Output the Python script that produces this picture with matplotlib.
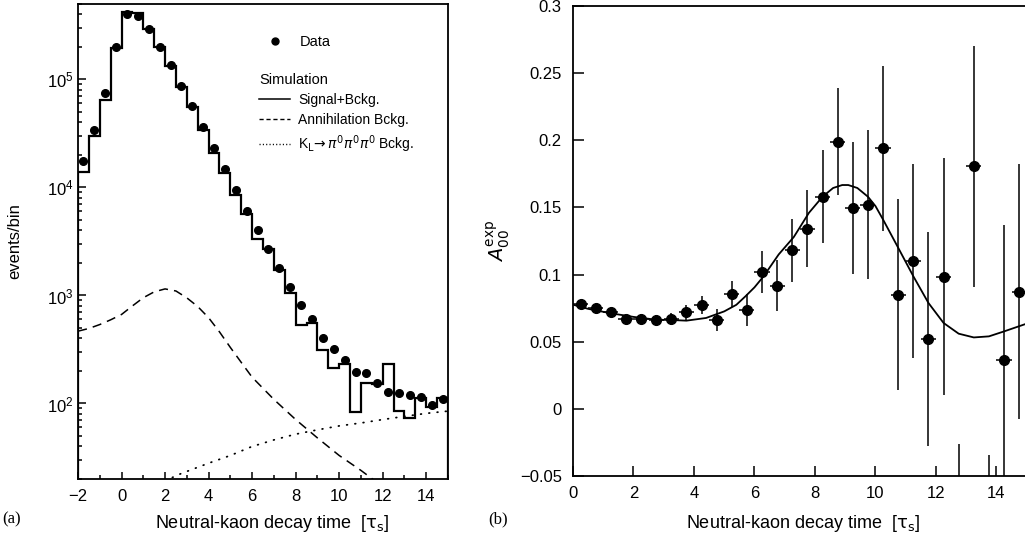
import matplotlib
matplotlib.use('Agg')
import matplotlib.pyplot as plt
import numpy as np
from matplotlib.lines import Line2D
from matplotlib.ticker import MultipleLocator, LogLocator, FuncFormatter, NullFormatter

plt.rcParams['font.family'] = ['Liberation Sans', 'DejaVu Sans']
plt.rcParams['mathtext.fontset'] = 'dejavusans'

# ---- panel (a): decay-time distribution ----
bin_edges = np.arange(-2.0, 15.01, 0.5)
bin_centers = 0.5 * (bin_edges[:-1] + bin_edges[1:])
data_counts = [1.74e4, 3.4e4, 7.5e4, 2.0e5, 4.0e5, 3.9e5, 2.9e5, 2.0e5, 1.35e5, 8.7e4,
               5.7e4, 3.6e4, 2.3e4, 1.49e4, 9.4e3, 6.05e3, 4.0e3, 2.72e3, 1.80e3, 1.2e3,
               810, 600, 400, 318, 255, 197, 191, 154, 127, 126,
               120, 115, 96, 111]
sim_counts = [1.39e4, 3.0e4, 6.5e4, 1.96e5, 4.2e5, 4.1e5, 2.9e5, 2.0e5, 1.33e5, 8.5e4,
              5.5e4, 3.4e4, 2.1e4, 1.37e4, 8.5e3, 5.7e3, 3.35e3, 2.67e3, 1.71e3, 1.06e3,
              531, 556, 314, 212, 233, 84, 154, 151, 231, 86,
              74, 113, 92, 112]
annih_t = [-2, -1.5, -1, -0.5, 0, 0.5, 1, 1.5, 2, 2.5, 3, 3.5, 4, 4.5, 5, 5.5, 6, 7, 8, 9, 10, 11, 12]
annih_v = [467, 495, 538, 595, 667, 800, 953, 1080, 1150, 1100, 950, 790, 622, 460, 330, 240, 175,
           109, 71, 48, 33, 24, 17]
kl_t = [2.0, 2.5, 3, 4, 5, 6, 7, 8, 9, 10, 11, 12, 13, 14, 15]
kl_v = [19, 21.5, 23.5, 28, 33, 40, 46, 52, 57, 62, 66, 71, 76, 81, 85]

# ---- panel (b): asymmetry ----
asym_t = np.arange(0.25, 15.0, 0.5)
asym_v = [0.0781, 0.0749, 0.0719, 0.0672, 0.0669, 0.0662, 0.0669, 0.0719, 0.0776, 0.0662,
          0.0853, 0.0736, 0.102, 0.0918, 0.118, 0.134, 0.158, 0.199, 0.1498, 0.152,
          0.194, 0.085, 0.110, 0.052, 0.0985, -0.13, 0.1806, -0.14, 0.0363, 0.0871]
asym_err = [0.003, 0.003, 0.003, 0.0035, 0.004, 0.004, 0.0045, 0.0056, 0.0067, 0.0083,
            0.0096, 0.012, 0.0158, 0.0189, 0.0235, 0.0287, 0.0347, 0.040, 0.049, 0.0556,
            0.0614, 0.071, 0.072, 0.080, 0.088, 0.104, 0.090, 0.106, 0.101, 0.095]
fit_t = [0, 0.5, 1.2, 2, 2.75, 3.25, 3.75, 4.4, 5, 5.4, 5.7, 6.0, 6.3, 6.8, 7.3, 7.8, 8.25,
         8.6, 8.9, 9.1, 9.4, 9.75, 10.0, 10.25, 10.75, 11.25, 11.75, 12.25, 12.75, 13.25,
         13.75, 14.25, 15]
fit_v = [0.0776, 0.0745, 0.0714, 0.0685, 0.0664, 0.0662, 0.0657, 0.0677, 0.0726, 0.0775,
         0.0838, 0.0905, 0.0987, 0.115, 0.128, 0.146, 0.158, 0.1645, 0.1667, 0.1667,
         0.1645, 0.158, 0.151, 0.141, 0.120, 0.0988, 0.0789, 0.064, 0.056, 0.0532,
         0.054, 0.0577, 0.0635]

fig = plt.figure(figsize=(10.25, 5.38), dpi=100)
ax1 = fig.add_axes([0.0761, 0.1097, 0.361, 0.883])
ax2 = fig.add_axes([0.559, 0.1152, 0.4427, 0.8736])

# panel (a)
ax1.stairs(sim_counts, bin_edges, color='black', lw=1.6)
ax1.plot(bin_centers, data_counts, 'o', color='black', ms=5.5, mec='black')
ax1.plot(annih_t, annih_v, color='black', lw=1.1, ls=(0, (6, 4)))
ax1.plot(kl_t, kl_v, color='black', lw=1.3, ls=(0, (0.4, 4.2)), dash_capstyle='round')
ax1.set_yscale('log')
ax1.set_xlim(-2, 15)
ax1.set_ylim(20, 5e5)
ax1.xaxis.set_major_locator(MultipleLocator(2))
ax1.xaxis.set_minor_locator(MultipleLocator(1))
ax1.yaxis.set_major_locator(LogLocator(base=10))
ax1.yaxis.set_minor_locator(LogLocator(base=10, subs=np.arange(2, 10)))
ax1.yaxis.set_minor_formatter(NullFormatter())
ax1.xaxis.set_major_formatter(FuncFormatter(lambda v, p: ('%g' % v).replace('-', '\u2212')))
ax1.tick_params(axis='both', which='both', direction='in', top=False, right=False,
                labelsize=12, width=1.1)
ax1.tick_params(axis='y', which='major', length=6, pad=3)
ax1.tick_params(axis='y', which='minor', length=3)
ax1.tick_params(axis='x', which='major', length=5, pad=7)
ax1.tick_params(axis='x', which='minor', length=3)
for s in ax1.spines.values():
    s.set_linewidth(1.3)
ax1.set_xlabel(r'Neutral-kaon decay time  [$\mathrm{\tau_s}$]', fontsize=13)
ax1.xaxis.set_label_coords(0.524, -0.072)
ax1.set_ylabel('events/bin', fontsize=12)
ax1.yaxis.set_label_coords(-0.15, 0.5)

h_data = Line2D([], [], ls='none', marker='o', color='black', ms=5)
leg1 = ax1.legend([h_data], ['Data'], loc='upper left', bbox_to_anchor=(0.49, 0.935),
                  frameon=False, fontsize=10.5, handlelength=2.2, handletextpad=0.6,
                  borderpad=0, borderaxespad=0)
ax1.add_artist(leg1)
h_sig = Line2D([], [], color='black', lw=1.1)
h_ann = Line2D([], [], color='black', lw=1.0, ls=(0, (3, 2)))
h_kl = Line2D([], [], color='black', lw=1.0, ls=(0, (0.8, 1.6)))
leg2 = ax1.legend([h_sig, h_ann, h_kl],
                  ['Signal+Bckg.', 'Annihilation Bckg.', r'K$_{\rm L}\!\rightarrow\pi^0\pi^0\pi^0$ Bckg.'],
                  title='Simulation', title_fontsize=10.5, alignment='left',
                  loc='upper left', bbox_to_anchor=(0.49, 0.855), frameon=False,
                  fontsize=10, handlelength=2.2, handletextpad=0.6, labelspacing=0.45,
                  borderpad=0, borderaxespad=0)

# panel (b)
ax2.errorbar(asym_t, asym_v, xerr=0.25, yerr=asym_err, fmt='o', color='black', ms=7,
             elinewidth=1.1, capsize=0)
ax2.plot(fit_t, fit_v, color='black', lw=1.3)
ax2.set_xlim(0, 15)
ax2.set_ylim(-0.05, 0.3)
ax2.xaxis.set_major_locator(MultipleLocator(2))
ax2.yaxis.set_major_locator(MultipleLocator(0.05))
ax2.yaxis.set_major_formatter(FuncFormatter(lambda v, p: ('%g' % round(v, 3)).replace('-', '\u2212')))
ax2.tick_params(axis='both', which='both', direction='in', top=False, right=False,
                labelsize=12, width=1.1)
ax2.tick_params(axis='y', length=8, pad=8)
ax2.tick_params(axis='x', length=7, pad=7)
ax2.spines['right'].set_visible(False)
for s in ax2.spines.values():
    s.set_linewidth(1.3)
ax2.set_xlabel(r'Neutral-kaon decay time  [$\mathrm{\tau_s}$]', fontsize=13)
ax2.xaxis.set_label_coords(0.507, -0.079)
ax2.set_ylabel(r'$A_{00}^{\rm exp}$', fontsize=14)
ax2.yaxis.set_label_coords(-0.135, 0.5)

fig.text(0.002, 0.035, '(a)', family=['Liberation Serif', 'DejaVu Serif'], fontsize=12, va='center')
fig.text(0.476, 0.035, '(b)', family=['Liberation Serif', 'DejaVu Serif'], fontsize=12, va='center')

fig.savefig('out.png', dpi=100)
